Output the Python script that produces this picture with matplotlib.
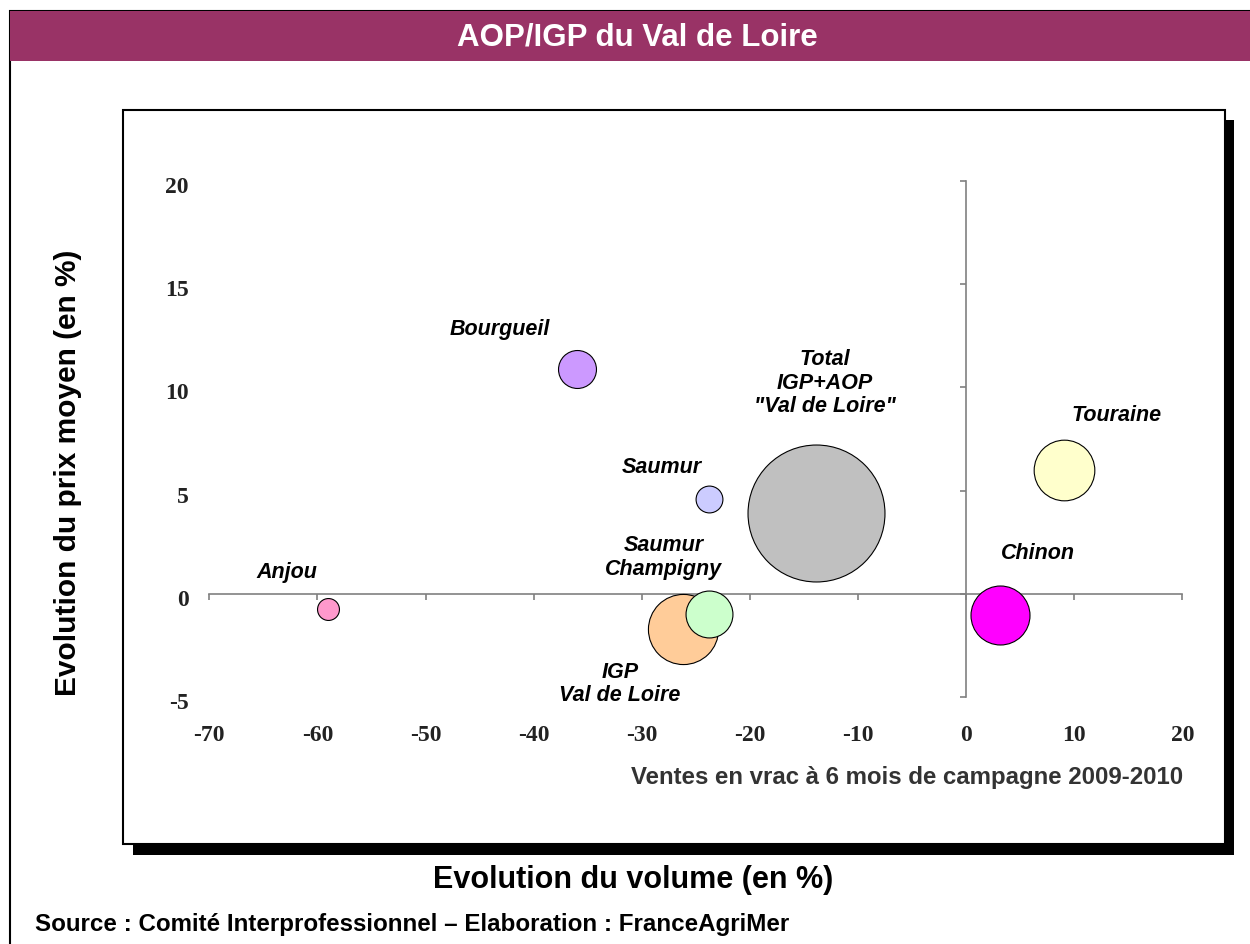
import matplotlib
matplotlib.use("Agg")
import matplotlib.pyplot as plt
from matplotlib.patches import Rectangle
from matplotlib.transforms import ScaledTranslation

# bubble data: evolution of volume / price (in %), bubble size ~ volume sold
names = ["Anjou", "Bourgueil", "Saumur", "Saumur\nChampigny", "IGP\nVal de Loire",
         "Total\nIGP+AOP\n\"Val de Loire\"", "Chinon", "Touraine"]
vol_change = [-59.0, -36.0, -23.8, -23.8, -26.2, -13.9, 3.1, 9.1]
price_change = [-0.75, 10.9, 4.6, -1.0, -1.7, 3.9, -1.05, 6.0]
volume = [1.2, 3.6, 1.8, 5.5, 12.3, 46.9, 8.7, 9.2]
colors = ["#FF99CC", "#CC99FF", "#CCCCFF", "#CCFFCC", "#FFCC99", "#C0C0C0", "#FF00FF", "#FFFFCC"]

x_ticks = list(range(-70, 21, 10))
y_ticks = list(range(-5, 21, 5))

# label offsets in pixels from the bubble centre
label_offsets = [(-41, 38), (-77, 40), (-47, 32), (-45, 58), (-63, -54), (9, 131), (38, 63), (52, 55)]

W, H = 1250, 945
DPI = 100

plt.rcParams["font.family"] = ["Liberation Sans", "DejaVu Sans"]
plt.rcParams["axes.unicode_minus"] = False

fig = plt.figure(figsize=(W / DPI, H / DPI), dpi=DPI)


def fx(x):
    return x / W


def fy(y):
    return 1 - y / H


def box(x0, y0, x1, y1, **kw):
    # rectangle given in pixel coords (top-left origin)
    r = Rectangle((fx(x0), fy(y1)), fx(x1) - fx(x0), (y1 - y0) / H,
                  transform=fig.transFigure, **kw)
    fig.add_artist(r)
    return r


# outer frame + title bar
box(10, 12, 1270, 970, facecolor="white", edgecolor="black", linewidth=1.5, zorder=-5)
box(10, 12, 1270, 62, facecolor="#993366", edgecolor="none", zorder=-4)
fig.text(fx(637), fy(38), "AOP/IGP du Val de Loire", color="white", fontsize=22.5,
         fontweight="bold", ha="center", va="center")

# inner chart box with shadow
box(133, 121, 1234, 856, facecolor="black", edgecolor="none", zorder=-3)
box(123, 111, 1225, 845, facecolor="white", edgecolor="black", linewidth=1.5, zorder=-2)

ax = fig.add_axes([fx(209.3), fy(698), fx(1182.3) - fx(209.3), (698 - 182) / H])
ax.set_zorder(5)
ax.patch.set_visible(False)
ax.set_xlim(-70, 20)
ax.set_ylim(-5, 20)

for s in ["top", "right"]:
    ax.spines[s].set_visible(False)
ax.spines["left"].set_position(("data", 0))
ax.spines["bottom"].set_position(("data", 0))
for s in ["left", "bottom"]:
    ax.spines[s].set_color("#808080")
    ax.spines[s].set_linewidth(1.2)

ax.set_xticks(x_ticks)
ax.set_yticks(y_ticks)
ax.tick_params(axis="x", direction="out", length=4.5, width=1.2, color="#808080",
               pad=89, labelsize=17, labelcolor="#222222")
ax.tick_params(axis="y", direction="out", length=4.5, width=1.2, color="#808080",
               pad=555, labelsize=17, labelcolor="#222222")
shift = ScaledTranslation(0, -3 / DPI, fig.dpi_scale_trans)
for lbl in ax.get_xticklabels() + ax.get_yticklabels():
    lbl.set_fontfamily("Liberation Serif")
    lbl.set_fontweight("bold")
for lbl in ax.get_yticklabels():
    lbl.set_transform(lbl.get_transform() + shift)

# bubbles, biggest first so small ones stay on top
px_to_pt = 72 / DPI
order = sorted(range(len(names)), key=lambda i: -volume[i])
for i in order:
    r_px = 10 * volume[i] ** 0.5
    ax.scatter(vol_change[i], price_change[i], s=(2 * r_px * px_to_pt) ** 2,
               color=colors[i], edgecolors="black", linewidths=0.8,
               clip_on=False, zorder=3)

for i, name in enumerate(names):
    ax.annotate(name, (vol_change[i], price_change[i]), xytext=label_offsets[i],
                textcoords="offset pixels", ha="center", va="center",
                fontsize=15.5, fontweight="bold", fontstyle="italic",
                linespacing=1.15, annotation_clip=False, zorder=4)

fig.text(fx(907), fy(778), "Ventes en vrac à 6 mois de campagne 2009-2010",
         fontsize=17.3, fontweight="bold", color="#333333", ha="center", va="center")

fig.text(fx(633), fy(880), "Evolution du volume (en %)", fontsize=22,
         fontweight="bold", ha="center", va="center")
fig.text(fx(68), fy(473), "Evolution du prix moyen (en %)", fontsize=21.5,
         fontweight="bold", ha="center", va="center", rotation=90)
fig.text(fx(35), fy(925), "Source : Comité Interprofessionnel \u2013 Elaboration : FranceAgriMer",
         fontsize=17.4, fontweight="bold", ha="left", va="center")

fig.savefig("out.png", dpi=DPI)
